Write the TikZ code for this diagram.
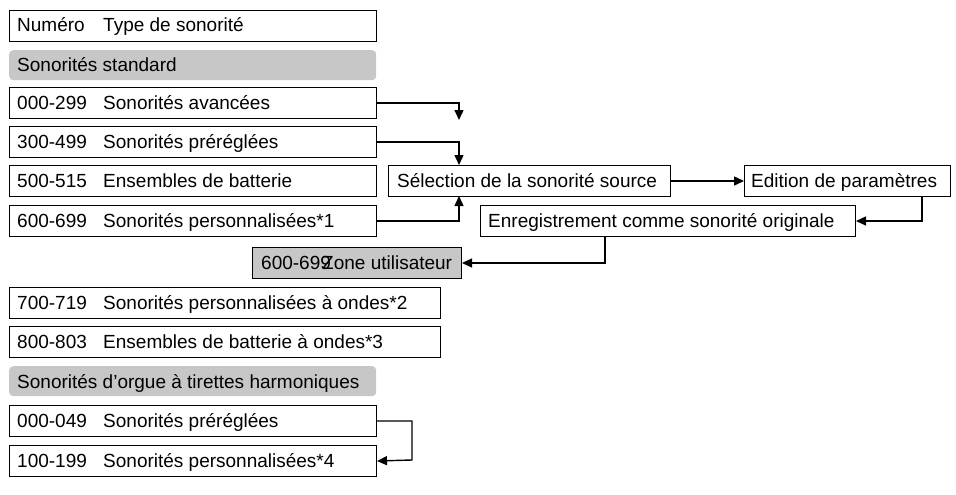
\documentclass[tikz,border=0pt]{standalone}
\usepackage{fontspec}
\setmainfont{Liberation Sans}
\usetikzlibrary{arrows.meta}
\begin{document}
\begin{tikzpicture}[x=1pt,y=-1pt,
 bx/.style={draw,line width=1pt,fill=white},
 gr/.style={fill=black!22,rounded corners=4pt},
 zb/.style={draw,line width=1pt,fill=black!22},
 tx/.style={anchor=base west,inner sep=0pt,font=\fontsize{19}{21}\selectfont},
 ar/.style={line width=1.4pt,-{Triangle[length=10pt,width=9pt]}}]
\useasboundingbox (0,0) rectangle (956,495);
\newcommand{\rowbox}[5]{% name, y0, x1, num, text
 \node[bx,minimum width=#3-9,minimum height=31,anchor=north west,inner sep=0] (#1) at (9,#2) {};
 \node[tx] at (17,#2+22) {#4};
 \node[tx] at (103,#2+22) {#5};}
\rowbox{h}{10}{376}{Numéro}{Type de sonorité}
\node[gr,minimum width=367,minimum height=30,anchor=north west,inner sep=0] (g1) at (9,50) {};
\node[tx] at (17,72) {Sonorités standard};
\rowbox{a}{87}{376}{000-299}{Sonorités avancées}
\rowbox{b}{126}{376}{300-499}{Sonorités préréglées}
\rowbox{c}{165}{376}{500-515}{Ensembles de batterie}
\rowbox{d}{205}{376}{600-699}{Sonorités personnalisées*1}
\rowbox{e}{287}{440}{700-719}{Sonorités personnalisées à ondes*2}
\rowbox{f}{326}{440}{800-803}{Ensembles de batterie à ondes*3}
\node[gr,minimum width=367,minimum height=30,anchor=north west,inner sep=0] (g2) at (9,366) {};
\node[tx] at (17,388) {Sonorités d’orgue à tirettes harmoniques};
\rowbox{o1}{405}{376}{000-049}{Sonorités préréglées}
\rowbox{o2}{445}{376}{100-199}{Sonorités personnalisées*4}
\node[zb,minimum width=209,minimum height=31,anchor=north west,inner sep=0] (z) at (252,247) {};
\node[tx] at (261,269) {600-699};
\node[tx] at (322,269) {Zone utilisateur};
\node[bx,minimum width=282,minimum height=31,anchor=north west,inner sep=0] (s) at (388,165) {};
\node[tx] at (397,187) {Sélection de la sonorité source};
\node[bx,minimum width=206,minimum height=31,anchor=north west,inner sep=0] (ed) at (744,165) {};
\node[tx] at (751,187) {Edition de paramètres};
\node[bx,minimum width=375,minimum height=31,anchor=north west,inner sep=0] (en) at (480,205) {};
\node[tx] at (488,227) {Enregistrement comme sonorité originale};
\coordinate (ae) at (459,120);
\draw[ar] (a.east) -| (ae);
\draw[ar] (b.east) -| (459,165);
\draw[ar] (d.east) -| (459,196);
\draw[ar] (s.east) -- (ed.west);
\draw[ar] (922,196) |- (en.east);
\draw[ar] (605,236) |- (z.east);
\draw[ar] (o1.east) -| (412,460) -- (o2.east);
\end{tikzpicture}
\end{document}
